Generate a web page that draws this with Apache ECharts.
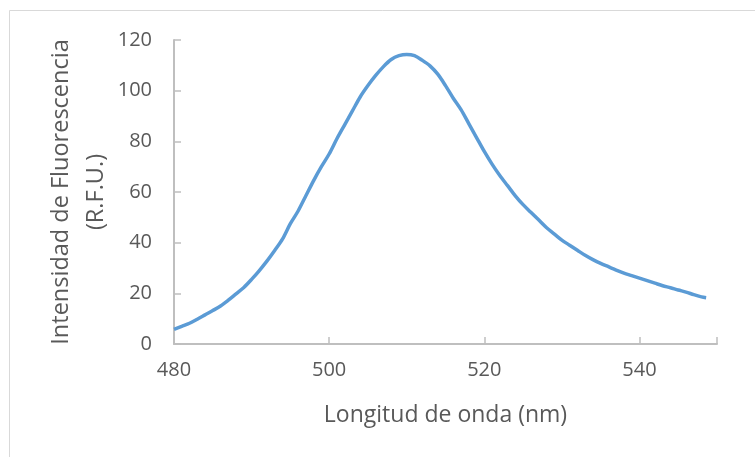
<!DOCTYPE html>
<html>
<head>
<meta charset="utf-8">
<script src="https://cdn.jsdelivr.net/npm/echarts@6/dist/echarts.min.js"></script>
<style>html,body{margin:0;padding:0;background:#fff;}#c{width:755px;height:457px;}</style>
</head>
<body>
<div id="c"></div>
<script>
const wavelengths = [480,481,482,483,484,485,486,487,488,489,490,491,492,493,494,495,496,497,498,499,500,501,502,503,504,505,506,507,508,509,510,511,512,513,514,515,516,517,518,519,520,521,522,523,524,525,526,527,528,529,530,531,532,533,534,535,536,537,538,539,540,541,542,543,544,545,546,547,548,548.6];
const intensity = [5.8,7.0,8.2,9.8,11.5,13.2,15.0,17.3,19.8,22.3,25.5,29.0,32.8,37.0,41.5,47.5,52.5,58.5,64.5,70.0,75.0,81.0,86.5,92.0,97.5,102.0,106.0,109.5,112.3,113.8,114.3,113.8,112.0,109.8,106.5,102.0,97.0,92.5,87.0,81.5,76.0,71.0,66.5,62.5,58.5,55.0,52.0,49.0,46.0,43.5,41.0,39.0,37.0,35.0,33.3,31.8,30.5,29.2,28.0,27.0,26.0,25.0,24.0,23.0,22.2,21.3,20.5,19.5,18.6,18.3];
const xTicks = [480, 500, 520, 540];
const yTicks = [0, 20, 40, 60, 80, 100, 120];
const xTitle = 'Longitud de onda (nm)';
const yTitle = 'Intensidad de Fluorescencia\n(R.F.U.)';

const font = '"Open Sans", "Liberation Sans", sans-serif';
const chart = echarts.init(document.getElementById('c'), null, {renderer: 'canvas'});
chart.setOption({
  animation: false,
  backgroundColor: '#fff',
  graphic: [{
    type: 'rect', left: 9, top: 10, z: -1,
    shape: {width: 800, height: 500},
    style: {fill: '#fff', stroke: '#d9d9d9', lineWidth: 1}
  }],
  grid: {left: 174, right: 38, top: 40, bottom: 113, containLabel: false},
  xAxis: {
    type: 'value', min: xTicks[0], max: 550, interval: 20,
    name: xTitle, nameLocation: 'middle', nameGap: 60,
    nameTextStyle: {color: '#595959', fontSize: 23, fontFamily: font},
    axisLine: {show: true, lineStyle: {color: '#bfbfbf', width: 2}},
    axisTick: {show: true, inside: true, length: 7, lineStyle: {color: '#bfbfbf', width: 1.5}},
    axisLabel: {color: '#595959', fontSize: 20, fontFamily: font, margin: 16,
      formatter: v => xTicks.includes(v) ? String(v) : ''},
    splitLine: {show: false}
  },
  yAxis: {
    type: 'value', min: yTicks[0], max: yTicks[yTicks.length-1], interval: 20,
    name: yTitle, nameLocation: 'middle', nameGap: 60, nameRotate: 90,
    nameMoveOverlap: false,
    nameTextStyle: {color: '#595959', fontSize: 23.5, fontFamily: font, lineHeight: 35},
    axisLine: {show: true, lineStyle: {color: '#bfbfbf', width: 2}},
    axisTick: {show: true, inside: true, length: 7, lineStyle: {color: '#bfbfbf', width: 1.5}},
    axisLabel: {color: '#595959', fontSize: 20, fontFamily: font, margin: 22},
    splitLine: {show: false}
  },
  series: [{
    type: 'line',
    data: wavelengths.map((w, i) => [w, intensity[i]]),
    showSymbol: false,
    smooth: 0.3,
    lineStyle: {color: '#5b9bd5', width: 3.5},
    itemStyle: {color: '#5b9bd5'}
  }]
});
</script>
</body>
</html>
